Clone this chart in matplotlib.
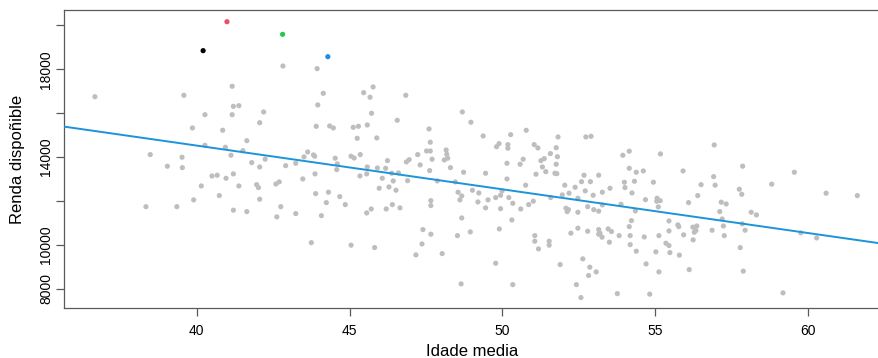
import matplotlib
matplotlib.use("Agg")
import matplotlib.pyplot as plt

plt.rcParams['font.family'] = ['Liberation Sans', 'DejaVu Sans']

# average age vs disposable income
idade = [
    36.67, 39.58, 42.82, 43.94, 41.16, 41.20, 41.38, 44.14, 43.96, 40.27,
    41.16, 42.19, 42.06, 43.91, 44.35, 44.47, 39.86, 40.85, 41.64, 40.27,
    40.94, 41.51, 43.63, 43.82, 43.86, 38.48, 39.52, 41.12, 44.53, 41.80,
    42.24, 43.51, 43.24, 42.91, 42.06, 39.04, 39.53, 43.87, 44.58, 40.50,
    40.67, 40.96, 41.20, 43.47, 40.15, 41.38, 41.96, 42.02, 42.59, 42.70,
    40.74, 39.90, 38.34, 39.35, 41.20, 41.64, 42.06, 42.75, 42.62, 43.24,
    43.89, 44.31, 44.24, 44.08, 44.68, 43.75, 45.46, 45.77, 45.67, 46.84,
    45.72, 45.58, 45.12, 45.29, 46.56, 45.25, 45.89, 47.60, 48.69, 48.97,
    49.37, 50.27, 50.78, 51.82, 52.73, 52.90, 47.64, 47.52, 47.64, 48.16,
    48.18, 48.21, 48.10, 47.23, 47.70, 46.95, 46.86, 47.31, 45.05, 45.15,
    45.35, 44.60, 45.58, 45.91, 46.18, 46.24, 45.34, 45.56, 46.07, 46.60,
    46.38, 47.62, 48.30, 48.73, 49.45, 49.81, 49.89, 50.18, 50.18, 50.15,
    50.58, 50.68, 51.04, 51.16, 51.57, 51.76, 51.80, 51.26, 51.37, 51.31,
    51.42, 51.76, 51.72, 51.78, 51.10, 50.15, 52.67, 53.15, 53.94, 54.15,
    55.17, 56.93, 57.86, 59.55, 54.15, 54.38, 54.61, 55.91, 56.91, 46.43,
    46.90, 45.97, 46.29, 46.52, 44.86, 45.71, 45.56, 46.20, 46.40, 46.65,
    45.05, 45.82, 47.87, 48.46, 48.55, 48.67, 48.61, 49.02, 49.23, 49.20,
    49.53, 49.78, 49.94, 49.99, 50.21, 50.34, 49.45, 49.94, 50.60, 50.86,
    51.01, 50.76, 47.66, 47.66, 48.67, 50.31, 47.40, 47.66, 48.53, 48.95,
    49.90, 47.37, 47.17, 48.03, 51.06, 51.06, 51.18, 51.53, 51.53, 49.78,
    48.65, 50.34, 51.89, 52.04, 52.38, 52.59, 52.88, 52.71, 52.97, 51.58,
    51.96, 52.18, 52.47, 52.08, 52.16, 52.12, 52.47, 52.79, 52.99, 53.15,
    52.47, 52.24, 52.79, 53.15, 53.15, 52.63, 52.86, 53.07, 52.82, 52.42,
    52.57, 53.27, 53.52, 53.99, 54.01, 54.32, 54.24, 54.94, 53.27, 53.88,
    54.35, 54.68, 55.06, 55.16, 55.05, 55.10, 54.22, 54.15, 53.19, 53.26,
    53.46, 53.57, 53.50, 53.82, 54.18, 54.18, 54.38, 54.64, 55.12, 55.02,
    55.45, 55.45, 55.35, 55.45, 55.48, 55.74, 55.77, 55.79, 55.93, 56.09,
    56.39, 56.50, 56.96, 56.23, 56.36, 56.28, 56.33, 56.24, 56.86, 57.11,
    57.16, 57.32, 57.19, 57.23, 57.26, 57.75, 57.83, 58.81, 58.14, 58.31,
    57.85, 57.94, 57.78, 57.88, 56.11, 55.12, 54.70, 53.76, 54.82, 59.18,
    59.76, 60.28, 60.59, 61.61,
]
renda = [
    16750, 16815, 18150, 18030, 17225, 16310, 16340, 16905, 16375, 15930,
    15930, 16055, 15565, 15400, 15415, 15325, 15325, 15220, 14745, 14535,
    14445, 14290, 14230, 14095, 14035, 14110, 13990, 14080, 13945, 13745,
    13900, 14005, 13715, 13605, 13545, 13580, 13515, 13230, 13425, 13135,
    13170, 13030, 13230, 13000, 12680, 12680, 12740, 12605, 12770, 12865,
    12240, 12045, 11735, 11735, 11575, 11510, 12075, 11735, 11270, 11420,
    12330, 12395, 11920, 11325, 12195, 10095, 16935, 17195, 16725, 16815,
    15995, 15460, 15355, 15400, 15675, 14855, 14870, 15280, 16055, 15585,
    14960, 15020, 15220, 14915, 14915, 14945, 14675, 14275, 14275, 14320,
    14125, 13945, 13865, 14110, 13900, 13880, 13775, 13640, 14035, 13955,
    14110, 13685, 13545, 13500, 13485, 13835, 13135, 13230, 13030, 13275,
    13260, 13380, 13515, 13305, 13260, 14470, 14610, 14565, 14400, 13715,
    13670, 13900, 14565, 14415, 14155, 14425, 14015, 13835, 13925, 13545,
    13330, 13670, 13260, 13240, 13215, 13000, 13170, 13170, 14080, 14265,
    14140, 14550, 13580, 13305, 13485, 13305, 13365, 13365, 13105, 12910,
    12920, 12575, 12635, 12485, 11830, 11630, 11450, 11630, 11830, 11680,
    9980, 9870, 12910, 12865, 12395, 12225, 12045, 12485, 12360, 11950,
    12045, 12150, 12255, 12455, 12150, 11890, 11680, 11645, 11630, 11830,
    11985, 12715, 12010, 11785, 11220, 11130, 10690, 10480, 10415, 10585,
    10720, 10035, 9535, 9595, 10415, 10160, 9810, 10160, 9980, 9155,
    8215, 8180, 9095, 12715, 12620, 12875, 12875, 12455, 12255, 12150,
    12270, 12350, 12120, 11665, 11600, 11510, 11480, 11735, 11600, 11530,
    10755, 10525, 10615, 10690, 10480, 9355, 8975, 8760, 8595, 8180,
    7590, 12395, 12575, 12850, 12605, 12895, 12360, 12850, 11815, 11845,
    11540, 12055, 12120, 12010, 11985, 11725, 11100, 10825, 10525, 10345,
    10720, 10600, 10115, 10415, 10415, 10005, 9705, 10355, 10415, 9675,
    11085, 10630, 10070, 9960, 9640, 10905, 10825, 9525, 10450, 11920,
    12240, 12740, 12715, 10800, 10855, 10570, 10645, 10220, 10660, 11510,
    11940, 11860, 11175, 10855, 10415, 12530, 12300, 12760, 11480, 11360,
    10950, 10660, 9870, 8795, 8865, 8760, 9125, 7770, 7745, 7805,
    10540, 10310, 12350, 12240,
]

# highlighted observations
dest_x = [40.21, 40.99, 42.81, 44.29]
dest_y = [18850, 20170, 19595, 18575]
dest_cor = ['#000000', '#E8506A', '#22C94A', '#1E8FE0']

# fitted regression line
intercepto = 22497
pendente = -199.4

fig = plt.figure(figsize=(8.79, 3.58), dpi=100)
ax = fig.add_axes([0.0732, 0.1388, 0.9268, 0.8324])

ax.scatter(idade, renda, s=14, color='#BEBEBE', edgecolors='none', zorder=2)
ax.scatter(dest_x, dest_y, s=14, color=dest_cor, edgecolors='none', zorder=3)
ax.axline((40, intercepto + pendente * 40), slope=pendente, color='#1B94D8', lw=1.4, zorder=4)

ax.set_xlim(35.67, 62.32)
ax.set_ylim(7100, 20690)
ax.set_xticks([40, 45, 50, 55, 60])
ax.set_yticks([8000, 10000, 12000, 14000, 16000, 18000, 20000])
ax.set_yticklabels(['8000', '10000', '', '14000', '', '18000', ''], rotation=90, va='center')

for s in ['top', 'left', 'bottom']:
    ax.spines[s].set_color('#5a5a5a')
    ax.spines[s].set_linewidth(0.9)
ax.spines['right'].set_visible(False)
ax.tick_params(length=6, width=0.9, color='#5a5a5a', labelsize=10)
ax.tick_params(axis='x', pad=5)
ax.tick_params(axis='y', pad=2)

ax.set_xlabel('Idade media', fontsize=12, labelpad=4.5)
ax.set_ylabel('Renda dispoñible', fontsize=12, labelpad=10)

fig.savefig('out.png', dpi=100)
